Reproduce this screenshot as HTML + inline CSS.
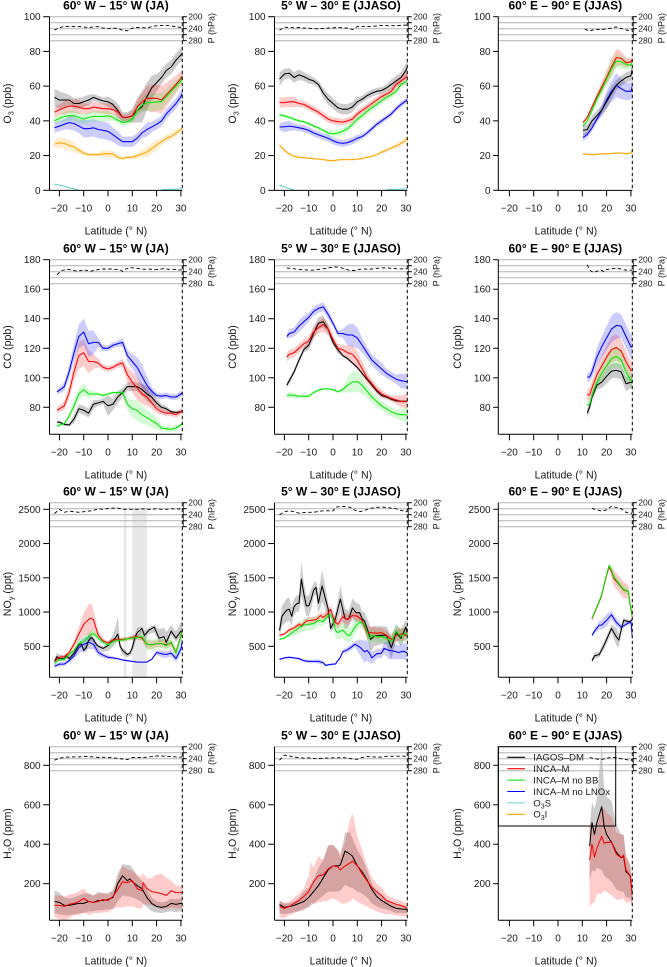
<!DOCTYPE html>
<html lang="en">
<head>
<meta charset="utf-8">
<title>Latitudinal profiles of O3, CO, NOy and H2O</title>
<style>
html,body{margin:0;padding:0;background:#fff;}
svg{display:block;font-family:"Liberation Sans",Arial,sans-serif;}
</style>
</head>
<body>
<svg id="chart" xmlns="http://www.w3.org/2000/svg" width="667" height="967" viewBox="0 0 667 967"></svg>
<script>
// ---------- shared category data ----------
const titles = ['60° W – 15° W (JA)', '5° W – 30° E (JJASO)', '60° E – 90° E (JJAS)'];
const xTicks = [-20, -10, 0, 10, 20, 30];
const pressureTicks = [200, 220, 240, 260, 280];
const pressureLabels = [200, 240, 280];
const o3Ticks = [0, 20, 40, 60, 80, 100];
const coTicks = [80, 100, 120, 140, 160, 180];
const noyTicks = [500, 1000, 1500, 2000, 2500];
const h2oTicks = [200, 400, 600, 800];
const legendNames = ['IAGOS–DM', 'INCA–M', 'INCA–M no BB', 'INCA–M no LNOx', 'O3S', 'O3I'];

// ---------- O3, 60W-15W ----------
const latA = [-22,-20,-18,-16,-14,-12,-10,-8,-6,-4,-2,0,2,4,6,8,10,12,14,16,18,20,22,24,26,28,30,30.6];
const o3a_black = [53.5,52,52,52,50,50,51,52,53.5,52.5,51.5,51,49.5,46,42,42,43,46,48,54,59,62,65,69,71,75,78,79];
const o3a_blackB = [5,5,4,3,3,3,3,3,2,2,2,3,3,4,3,3,4,7,9,8,7,5,4,4,4,4,4,4];
const o3a_red = [45,46.5,47.5,48.5,48.5,48,47,47,48,47.5,47,47,46.5,45,42,42,43,48,51,53,53,53,52,55,58,61,64.5,66];
const o3a_redB = [3,3,4,4,4,4,3,3,3,3,3,3,3,3,2,2,3,4,5,7,8,8,8,7,6,5,4,4];
const o3a_green = [40,41.5,42.5,43,43,42,41,42,42.5,42.5,42.5,43,42,40.5,39,39.5,41,46,49,50.5,50.5,51,51,54,57,60,63,65];
const o3a_greenB = [2,2,3,3,3,3,3,3,3,3,3,3,2,2,2,2,2,3,4,5,5,5,5,4,4,3,3,3];
const o3a_blue = [36,37,38,39,38.5,37,35.5,35.5,36,35,34.5,34,32,30,28,28,28,30,33,35,36.5,38,40,44,47,50,54,56];
const o3a_blueB = [3,3,3,4,4,4,5,5,5,5,5,5,4,4,3,3,3,3,3,4,3,3,3,3,3,3,3,3];
const o3a_orange = [26.5,27.5,27,26,25,23,21.5,20.5,20.5,20.5,21,21,21,19,18.3,19,19,20,21,22,24,26,28,30,31,33,35,36];
const o3a_orangeB = [2,3,3,3,3,2,1.5,1,1,1,2,2,2,1.5,1,1,1,1.5,2,3,3,3,2,2,2,2,1.5,1.5];
const o3a_cyanLat1 = [-22,-20,-18,-16,-14,-12];
const o3a_cyan1 = [3.5,3,2.3,1.5,0.8,0.1];
const cyanLat2 = [22,24,26,28,30,30.6];
const cyan2 = [0.3,0.5,0.6,0.7,0.8,0.8];
const o3a_press = [245,236,233,233,233,233,234,237,234,233,238,239,238,239,245,247,238,236,236,238,233,230,229,229,231,233,236,237];

// ---------- O3, 5W-30E ----------
const o3b_black = [64,67,67.5,65,66.5,65.5,64,63,61,56,52.5,50,47.5,46.7,46.7,48,51,52.5,54.5,56,57,57.5,59,61,63,65,69,71];
const o3b_blackB = [4,3,3,3,3,2.5,2.5,2,2,3,3,3,3,3,3,3,2.5,2,2,2,2,2,2,3,3,3,4,5];
const o3b_red = [50.5,50.5,51,51,50,49.5,48,46.5,45,43,41,40,39.5,39.3,40,41,44,46,48,50,52,54,55.5,57,61,63,65,66];
const o3b_redB = [3,3,3,3,2,2,2,2,2,2,2,2,2,2,2,2,2,2,2,2,2,2,2,2,3,3,3,3];
const o3b_green = [43.5,42.8,42,41,40,39.5,38.5,37,36,34.5,33,32.5,33,34,35.5,38,41,43,45.5,47.5,49.5,51.5,53.5,55,57,61,62.5,63.5];
const o3b_greenB = [1,1,1,1,1,1,1,1,1,1,2,2,2,2,2,2,2,2,2,2,2,2,2,2,2,2,2,2];
const o3b_blue = [36.5,36.5,37,36.5,36,35.5,34.5,33,32,31,30,28.5,27.5,27,27.5,28.5,30,31,33,35.5,38,40,42,44,47,49.5,51.5,52.5];
const o3b_blueB = [2,3,3,2,2,2,2,2,2,2,2,2,2,2,2,2,2,1.5,1.5,1.5,1.5,1.5,1.5,1.5,1.5,1.5,1.5,1.5];
const o3b_orange = [26,23,21,19.5,19,18.8,18.5,18.2,18,17.7,17.3,17,17.5,17.7,17.7,17.7,18,18.2,19,19.5,20.5,22,23,24.5,25.5,27,29,30];
const o3b_orangeB = [1,1,1,.5,.5,.5,.5,.5,.5,.5,.5,.5,.5,.5,.5,.5,.5,.5,.5,.5,.5,1,1,1,1.5,1.5,2,2.5];
const o3b_cyanLat1 = [-22,-20,-18,-16];
const o3b_cyan1 = [3,2,1,0.2];
const o3b_press = [245,235,236,237,236,238,238,240,240,239,238,237,236,237,238,243,233,232,233,232,231,229,230,230,230,229,228,229];

// ---------- O3, 60E-90E ----------
const o3cLat = [10.3,12,14,16,18,20,22,24,26,28,30,30.6];
const o3c_black = [34.5,35,40,43,46,51,56,60.5,63,65,66,70];
const o3c_blackB = [3,3,3,3,3,4,4,3,3,3,3,3];
const o3c_red = [39,42,48,54,59.5,65,71,76.5,76,73.5,74,75.5];
const o3c_redB = [1,1,1,2,3,4,5,5,4,3,2,2];
const o3c_green = [37,40,46,52.5,58,64,70,74.5,74,72.5,72,74];
const o3c_greenB = [1,1,2,3,3,4,5,4,4,3,2,2];
const o3c_blue = [30.5,32,36,41,46,52,57,60.5,58.5,57,57,60];
const o3c_blueB = [2,2,2,2,3,5,6,7,6,5,5,5];
const o3c_orange = [21,20.8,20.5,20.8,21,21,21.2,21.5,21.5,21,21.5,23];
const o3c_orangeB = [.5,.5,.5,.5,.5,.5,.5,.5,.5,.5,.5,.5];
const o3cPressLat = [11,12,13,14,16,18,20,22,24,26,28,29,30.6];
const o3c_press = [241,245,247,245,242,243,240,238,234,239,244,246,241];

// ---------- CO, 60W-15W ----------
const coaLat = [-21,-20,-18,-16,-14,-12,-10,-8,-6,-4,-2,0,2,4,6,8,10,12,14,16,18,20,22,24,26,28,30,30.6];
const coa_blue = [90.5,91.5,94,104,117,128,131,123,124,124,120,120,122,123,124,115,111,107,101,95,91,88,87.5,88,87,87,89,90];
const coa_blueB = [2,2,3,4,6,8,9,9,8,3,2,2,2,2,3,4,5,7,8,6,3,2,2,2,2,2,2,2];
const coa_red = [78,79,81,90,104,115,117,111,111,110,107,106,107,109,110,102,97,93,89,87,83,79,77,76,76,75,77,78];
const coa_redB = [2,2,3,4,6,9,9,8,5,3,2,2,2,2,3,5,7,8,7,6,4,3,2,2,2,2,2,2];
const coa_green = [67,68,69,74,81,89,92,89,89,89,88,89,90,90,90,82,79,78,75,73,71,69,66,65.5,65,66,68,69.5];
const coa_greenB = [1,1,1,2,3,4,4,3,2,1,1,1,1,1,2,4,6,7,6,5,5,4,2,2,2,2,1,1];
const coa_black = [70,70,68.5,68,72,79,78,76,82,83,84,81,82,87,90,94,94,94,92,89,87,83,80,79,77,76.5,77,78];
const coa_blackB = [1,1,1,1,3,3,3,3,3,2,2,7,4,4,3,3,3,3,4,5,5,3,2,2,1,1,1,1];
const coaPressLat = [-21,-19,-17,-15,-13,-11,-10,-9,-7,-5,-3,-1,1,3,5,6,7,9,11,13,15,17,19,21,23,25,27,29,30.6];
const coa_press = [250,236,232,234,238,236,232,236,238,235,231,231,231,232,234,239,232,226,228,230,232,231,233,232,230,232,232,234,234];

// ---------- CO, 5W-30E ----------
const cobLat = [-19,-18,-16,-14,-12,-10,-8,-6,-4,-2,0,2,4,6,8,10,12,14,16,18,20,22,24,26,28,30,30.6];
const cob_blue = [128,130,131,135,138,141,145,147,148,143,137,130,130,129,129,127,122,117,112,109,106,103,101,99,98,97.5,97];
const cob_blueB = [2,3,3,4,4,3,3,3,3,3,2,2,3,7,8,7,5,4,4,4,4,3,3,3,5,5,5];
const cob_red = [114,116,117,120,123,125,131,134,136,133,126,120,119,117,116,112,106,100,96,92,89,87.5,86,85,84,84,84];
const cob_redB = [3,3,3,3,3,3,4,4,5,4,3,3,3,5,6,6,5,4,3,3,3,2,2,3,4,5,5];
const cob_green = [88,88.5,88,87.5,87.5,87.5,90,91.5,92.5,92.5,92,90.5,92,95,97,97.5,95,91,87,84,81,79,77,75.5,75,75,74.5];
const cob_greenB = [1,2,2,1,1,1,1,1,1,1,1,1,2,5,7,7,6,4,4,4,3,3,3,3,4,5,5];
const cob_black = [95,98,104,112,119,122,130,137,138,133,124,119,115,113,110,107,103,99,95,91,88,87,85.5,84.5,84,84,84];
const cob_blackB = [2,2,2,2,2,3,4,4,4,3,2,2,1,1,1,1,1,1,1,1,1,1,1,1,1,1,1];
const cobPressLat = [-19,-17,-15,-13,-11,-9,-7,-5,-3,-1,1,3,5,7,9,11,13,15,17,19,21,23,25,27,29,30.6];
const cob_press = [228,229,232,233,234,235,234,231,229,226,224,226,231,236,236,232,231,232,230,228,227,228,230,230,231,230];

// ---------- CO, 60E-90E ----------
const cocLat = [12,13,14,16,18,20,22,24,26,28,30,30.6];
const coc_blue = [100.5,100.5,104,114,121,127,133,135.5,135,128,121,121];
const coc_blueB = [3,3,4,6,7,8,9,9,8,8,8,8];
const coc_red = [88.5,88.5,93,102,108,114,119,120.5,118,111,105,105];
const coc_redB = [4,4,5,6,7,8,9,9,8,7,6,6];
const coc_green = [81.5,82,88,97,103,108,113,114.5,112,104,98,99];
const coc_greenB = [3,3,3,4,5,6,7,7,6,6,5,5];
const coc_black = [76,80,87,95,97,101,104.5,105,104,96,97,96.5];
const coc_blackB = [3,3,3,3,4,5,5,5,5,5,4,4];
const cocPressLat = [12,13,14,15,16,18,19,20,22,24,26,28,30,30.6];
const coc_press = [217,234,240,242,238,236,240,233,230,229,231,235,235,234];

// ---------- NOy, 60W-15W ----------
const noaBlackLat = [-22,-21,-20,-18,-17,-16,-14,-12,-11,-10,-9,-8,-7,-6,-5,-4,-2,0,2,3,4,5,6,8,9,10,11,12,14,15,17,19,21,23,24,26,28,30,30.6];
const noa_black = [280,350,320,320,360,320,400,520,530,440,480,580,630,600,540,500,470,510,590,620,680,500,440,380,400,480,620,700,760,660,740,780,620,640,560,720,620,720,720];
const noa_blackUp = [40,60,60,40,40,40,40,40,40,60,80,100,60,40,30,30,30,40,80,150,250,60,40,30,30,40,60,70,30,60,40,30,130,130,150,90,100,130,170];
const noa_blackDn = [40,40,40,40,40,40,40,40,40,40,60,60,50,50,40,40,50,80,100,80,60,60,60,40,40,60,80,60,60,60,60,80,60,60,60,60,60,60,60];
const noaLat = [-22,-20,-18,-16,-14,-12,-10,-8,-7,-6,-4,-2,0,2,4,6,8,10,12,14,16,18,20,22,24,26,28,30,30.6];
const noa_red = [280,340,350,410,530,680,820,890,910,890,660,580,550,590,600,600,610,630,640,620,530,520,540,540,520,550,410,650,730];
const noa_redB = [30,30,30,30,50,100,170,220,220,150,60,30,30,30,30,30,30,40,40,40,60,60,50,50,50,50,50,40,40];
const noa_green = [250,310,310,380,440,540,570,640,670,690,620,560,520,570,590,590,610,620,630,640,530,520,540,540,510,560,400,640,730];
const noa_greenB = [30,30,30,30,40,60,70,70,60,60,50,40,40,40,30,30,30,30,30,60,90,80,70,70,70,70,70,60,60];
const noa_blue = [210,240,240,290,360,480,530,560,530,410,370,340,330,320,300,290,280,270,270,270,310,410,390,380,400,320,460,590];
const noa_blueB = [30,30,30,30,50,80,100,100,70,50,40,30,20,15,10,10,10,10,10,10,10,30,50,50,50,50,60,60];
const noa_press = [236,222,232,228,230,232,230,228,226,220,222,219,218,218,222,222,222,222,220,222,222,220,222,222,220,222,220,219];
const noaGapStart = [6.5, 10];
const noaGapEnd = [7.6, 16];

// ---------- NOy, 5W-30E ----------
const nobBlackLat = [-22,-21,-19,-18,-17,-16,-15,-14,-13,-12,-11,-10,-9,-8,-7,-6,-4.5,-3,-2,-1,1,3,5,6.5,8,9.5,11,12,13,15.5,17,20,22,24,26,28,30,30.6];
const nob_black = [730,940,1030,1040,940,1080,1120,1130,1480,1270,1090,1090,1180,1320,1360,1130,1380,1180,1050,760,900,1190,900,900,1060,990,990,900,870,600,650,660,660,480,700,620,780,680];
const nob_blackB = [100,150,170,170,130,120,120,120,250,170,150,150,150,100,100,150,230,160,100,60,90,190,150,120,140,150,120,100,130,170,150,130,130,170,120,120,120,120];
const nobRedLat = [-22,-20,-18,-16,-14,-13,-11,-9,-7,-5,-4,-2,-1,0,1,2,4,6,8,10,12,14,16,18,20,22,24,26,28,30,30.6];
const nob_red = [660,680,740,770,820,800,870,880,890,950,920,980,1040,930,850,820,930,890,950,940,880,700,700,690,700,660,600,660,680,660,720];
const nob_redB = [20,20,30,30,40,40,50,50,50,50,60,70,70,60,60,70,80,80,60,60,60,100,90,80,70,70,60,90,90,90,90];
const nobGreenLat = [-22,-20,-18,-16,-14,-12,-10,-8,-6,-4,-2,-1,0,1,2,4,6,7,9,11,13,15,16,18,20,22,24,26,28,30,30.6];
const nob_green = [600,620,670,720,770,810,820,830,880,860,950,960,880,730,700,740,660,660,780,850,820,620,660,640,640,620,570,720,640,700,650];
const nob_greenB = [20,20,40,60,90,90,90,90,80,70,50,50,60,90,100,120,110,110,100,80,70,100,90,80,80,80,80,100,100,100,100];
const nobBlueLat = [-22,-20,-18,-16,-14,-12,-10,-8,-6,-4,-3,-2,0,1,3,4,6,8,9,11,13,14,15,16,18,20,21,23,25,27,29,30.6];
const nob_blue = [310,330,340,330,320,290,280,280,280,260,220,230,240,240,340,420,450,500,530,490,420,440,400,330,390,400,470,440,430,410,430,400];
const nob_blueB = [15,15,15,15,20,20,25,25,30,30,20,15,15,15,20,30,40,40,40,110,160,150,130,90,70,70,80,130,120,100,120,130];
const nobPressLat = [-22,-20,-18,-16,-14,-12,-10,-8,-6,-4,-2,0,1,3,5,7,9,11,13,15,17,20,22,24,26,28,30,30.6];
const nob_press = [240,230,227,230,235,233,232,232,229,227,227,227,215,213,213,215,225,230,226,219,217,214,216,218,220,226,229,228];

// ---------- NOy, 60E-90E ----------
const nocLat = [14,16,18,19,21,22,23,25,27,29,29.5,30.6];
const noc_red = [900,1070,1240,1400,1660,1590,1490,1410,1320,1300,1140,920];
const noc_redB = [20,20,30,30,30,80,120,120,120,100,50,20];
const noc_green = [910,1080,1250,1410,1680,1610,1510,1420,1330,1300,1150,930];
const noc_greenB = [20,20,30,30,30,60,60,60,60,50,30,20];
const nocBlueLat = [14,15,17,18,20,22,24,26,28,30,30.6];
const noc_blue = [660,720,810,810,880,960,850,780,820,860,620];
const noc_blueB = [20,40,60,70,90,60,60,40,30,20,20];
const nocBlackLat = [14,15,17,19,20,22,24,25,27,29,30,30.6];
const noc_black = [290,360,380,520,600,760,640,590,880,860,870,900];
const noc_blackB = [30,50,40,60,60,60,130,100,40,30,20,20];
const nocPressLat = [14,16,18,20,22,24,26,28,30,30.6];
const noc_press = [219,224,228,224,212,216,220,232,237,232];

// ---------- H2O, 60W-15W ----------
const h2aBlackLat = [-22,-20,-18,-16,-14,-12,-10,-8,-6,-4,-2,0,2,3,4,6,8,9,10,12,14,16,18,20,22,24,26,28,30,30.6];
const h2a_black = [110,105,90,90,95,100,100,110,105,115,115,120,130,160,200,240,215,225,210,190,175,130,100,85,80,85,100,95,100,100];
const h2a_blackUp = [55,50,40,35,35,40,50,40,35,45,35,35,35,40,50,60,80,70,70,50,40,40,30,25,25,25,25,25,25,25];
const h2a_blackDn = [60,60,50,50,50,50,50,50,45,50,50,50,60,70,90,100,80,90,80,70,70,50,40,30,30,30,40,40,40,40];
const h2aRedLat = [-22,-20,-18,-16,-14,-12,-10,-8,-6,-4,-2,0,2,4,6,8,10,12,14,14.5,16,18,20,22,24,26,28,30,30.6];
const h2a_red = [90,90,85,95,100,110,125,110,105,110,120,115,135,170,210,205,215,175,165,205,175,160,155,150,140,165,155,155,155];
const h2a_redUp = [50,50,50,50,50,50,50,40,35,40,35,30,30,60,80,70,50,70,70,50,50,70,90,100,90,50,35,35,40];
const h2a_redDn = [60,70,70,70,60,70,70,70,55,60,65,60,60,90,130,120,130,100,90,110,80,70,75,80,70,85,80,80,80];
const h2a_press = [245,238,236,234,234,234,233,233,234,236,235,236,237,239,241,243,236,236,236,235,233,231,231,232,233,234,235,233];

// ---------- H2O, 5W-30E ----------
const h2bBlackLat = [-22,-20,-18,-16,-14,-12,-10,-8,-6,-4,-2,0,2,3,5,7,8,10,12,14,16,18,20,22,24,26,28,30,30.6];
const h2b_black = [95,80,85,90,100,110,130,160,190,230,270,290,290,295,365,350,340,290,260,220,170,135,115,100,85,75,72,70,70];
const h2b_blackUp = [20,20,15,20,30,50,50,60,90,90,125,110,80,35,95,110,90,80,70,50,30,25,20,20,15,15,15,15,15];
const h2b_blackDn = [45,35,35,35,40,40,50,60,70,90,110,130,130,130,170,170,160,130,110,90,70,50,40,30,25,25,20,20,20];
const h2bRedLat = [-22,-20,-18,-16,-14,-12,-10,-9,-8,-6,-4,-2,0,2,3,5,7,8,10,12,14,16,18,20,22,24,26,28,30,30.6];
const h2b_red = [85,75,85,100,115,135,160,185,210,240,245,275,290,285,270,290,305,315,290,250,215,180,160,140,115,105,95,90,80,75];
const h2b_redUp = [30,25,25,30,35,40,80,125,70,100,75,115,105,85,85,120,215,245,150,120,75,50,40,40,30,25,25,25,20,20];
const h2b_redDn = [55,50,45,50,55,65,75,80,115,135,135,160,165,170,170,190,195,190,180,155,130,110,100,90,70,60,55,55,45,40];
const h2b_press = [245,228,231,235,236,238,237,239,240,238,238,237,237,236,238,241,242,236,233,234,234,235,232,232,232,231,232,230];

// ---------- H2O, 60E-90E ----------
const h2cLat = [13,14,15,16,18,19,20,22,24,26,27,28,29.7,30.6];
const h2c_black = [390,510,450,510,590,490,450,410,360,330,340,260,240,140];
const h2c_blackUp = [100,100,130,120,320,180,190,210,140,120,110,80,60,60];
const h2c_blackDn = [180,240,190,230,320,250,220,200,190,170,180,130,110,50];
const h2c_red = [320,400,335,380,440,405,410,410,350,330,345,270,240,140];
const h2c_redUp = [180,100,150,130,140,180,150,130,110,120,100,70,50,50];
const h2c_redDn = [240,300,230,230,290,240,250,270,230,210,220,170,130,60];
const h2cPressLat = [13,14,16,18,20,22,24,26,28,30,30.6];
const h2c_press = [236,238,241,243,238,236,236,240,243,246,240];

// ---------- layout and scales ----------
const NS = 'http://www.w3.org/2000/svg';
const chart = document.getElementById('chart');
const colors = {black:'#000000', red:'#ff0000', green:'#00e800', blue:'#0000ff', cyan:'#60d0d0', orange:'#ffa500'};
const fills = {black:'rgba(0,0,0,.2)', red:'rgba(255,0,0,.2)', green:'rgba(0,232,0,.17)', blue:'rgba(0,0,255,.2)', cyan:'rgba(96,208,208,.2)', orange:'rgba(255,165,0,.2)'};
const colLeft = [49.5, 274.5, 498.3];
const colRight = [182.3, 407.3, 632.3];
const colOffset = [0, 225, 450];
const rowTop = [16.7, 259.7, 502.7, 746.7];
const rowBottom = [190.4, 434.3, 677.3, 920.3];
const rowTitleShift = [0, 0, 4, 0];

function makeY(v1, y1, v2, y2) {
  return function (v) { return y1 + (v - v1) * (y2 - y1) / (v2 - v1); };
}
const yScales = [makeY(0, 190.3, 100, 16.7), makeY(80, 407.3, 180, 259.7), makeY(500, 646.3, 2500, 509.3), makeY(200, 883.7, 800, 765.3)];
const yTicks = [o3Ticks, coTicks, noyTicks, h2oTicks];
const yLabels = [['O','3',' (ppb)'], ['CO','',' (ppb)'], ['NO','y',' (ppt)'], ['H','2','O (ppm)']];

function xScale(col, lat) { return colOffset[col] + 108.0 + lat * 2.43; }
function pScale(row, p) { return rowTop[row] + (p - 200) * 0.3; }

function mk(parent, tag, attrs) {
  const n = document.createElementNS(NS, tag);
  for (const k in attrs) n.setAttribute(k, attrs[k]);
  parent.appendChild(n);
  return n;
}
function s(color, lat, val, up, dn) { return {color, lat, val, up, dn: dn || up}; }

const panels = [
 {col:0,row:0,slug:'o3-west',pLat:latA,p:o3a_press,series:[s('orange',latA,o3a_orange,o3a_orangeB),s('cyan',o3a_cyanLat1,o3a_cyan1),s('cyan',cyanLat2,cyan2),s('blue',latA,o3a_blue,o3a_blueB),s('black',latA,o3a_black,o3a_blackB),s('red',latA,o3a_red,o3a_redB),s('green',latA,o3a_green,o3a_greenB)]},
 {col:1,row:0,slug:'o3-central',pLat:latA,p:o3b_press,series:[s('orange',latA,o3b_orange,o3b_orangeB),s('cyan',o3b_cyanLat1,o3b_cyan1),s('cyan',cyanLat2,cyan2),s('blue',latA,o3b_blue,o3b_blueB),s('black',latA,o3b_black,o3b_blackB),s('red',latA,o3b_red,o3b_redB),s('green',latA,o3b_green,o3b_greenB)]},
 {col:2,row:0,slug:'o3-east',pLat:o3cPressLat,p:o3c_press,series:[s('orange',o3cLat,o3c_orange,o3c_orangeB),s('blue',o3cLat,o3c_blue,o3c_blueB),s('black',o3cLat,o3c_black,o3c_blackB),s('red',o3cLat,o3c_red,o3c_redB),s('green',o3cLat,o3c_green,o3c_greenB)]},
 {col:0,row:1,slug:'co-west',pLat:coaPressLat,p:coa_press,series:[s('black',coaLat,coa_black,coa_blackB),s('red',coaLat,coa_red,coa_redB),s('green',coaLat,coa_green,coa_greenB),s('blue',coaLat,coa_blue,coa_blueB)]},
 {col:1,row:1,slug:'co-central',pLat:cobPressLat,p:cob_press,series:[s('black',cobLat,cob_black,cob_blackB),s('red',cobLat,cob_red,cob_redB),s('green',cobLat,cob_green,cob_greenB),s('blue',cobLat,cob_blue,cob_blueB)]},
 {col:2,row:1,slug:'co-east',pLat:cocPressLat,p:coc_press,series:[s('black',cocLat,coc_black,coc_blackB),s('red',cocLat,coc_red,coc_redB),s('green',cocLat,coc_green,coc_greenB),s('blue',cocLat,coc_blue,coc_blueB)]},
 {col:0,row:2,slug:'noy-west',pLat:latA,p:noa_press,gapStart:noaGapStart,gapEnd:noaGapEnd,series:[s('blue',latA,noa_blue,noa_blueB),s('black',noaBlackLat,noa_black,noa_blackUp,noa_blackDn),s('red',noaLat,noa_red,noa_redB),s('green',noaLat,noa_green,noa_greenB)]},
 {col:1,row:2,slug:'noy-central',pLat:nobPressLat,p:nob_press,series:[s('blue',nobBlueLat,nob_blue,nob_blueB),s('black',nobBlackLat,nob_black,nob_blackB),s('red',nobRedLat,nob_red,nob_redB),s('green',nobGreenLat,nob_green,nob_greenB)]},
 {col:2,row:2,slug:'noy-east',pLat:nocPressLat,p:noc_press,series:[s('blue',nocBlueLat,noc_blue,noc_blueB),s('black',nocBlackLat,noc_black,noc_blackB),s('red',nocLat,noc_red,noc_redB),s('green',nocLat,noc_green,noc_greenB)]},
 {col:0,row:3,slug:'h2o-west',pLat:latA,p:h2a_press,series:[s('black',h2aBlackLat,h2a_black,h2a_blackUp,h2a_blackDn),s('red',h2aRedLat,h2a_red,h2a_redUp,h2a_redDn)]},
 {col:1,row:3,slug:'h2o-central',pLat:latA,p:h2b_press,series:[s('black',h2bBlackLat,h2b_black,h2b_blackUp,h2b_blackDn),s('red',h2bRedLat,h2b_red,h2b_redUp,h2b_redDn)]},
 {col:2,row:3,slug:'h2o-east',pLat:h2cPressLat,p:h2c_press,series:[s('black',h2cLat,h2c_black,h2c_blackUp,h2c_blackDn),s('red',h2cLat,h2c_red,h2c_redUp,h2c_redDn)]}
];

const TICK = '#000';
const TXT = '#1a1a1a';

panels.forEach(function (pn, idx) {
  const c = pn.col, r = pn.row;
  const L = colLeft[c], R = colRight[c], T = rowTop[r], B = rowBottom[r], off = colOffset[c];
  const y = yScales[r];
  const x = function (v) { return xScale(c, v); };

  const g = mk(chart, 'g', {});
  
  

  const clip = mk(g, 'clipPath', {id: 'clip' + idx});
  mk(clip, 'rect', {x: L, y: T, width: R - L, height: B - T});

  const title = mk(g, 'text', {x: (L + R) / 2, y: T - 7, 'text-anchor': 'middle', 'font-size': 12, 'font-weight': 'bold', fill: '#000'});
  title.textContent = titles[c];
  
  

  const plot = mk(g, 'g', {'clip-path': 'url(#clip' + idx + ')'});
  
  

  (pn.gapStart || []).forEach(function (lat, i) {
    const rect = mk(plot, 'rect', {x: x(lat), y: y(2510), width: x(pn.gapEnd[i]) - x(lat), height: B - y(2510), fill: 'rgba(0,0,0,.09)'});
    
    
  });

  pressureTicks.forEach(function (p) {
    const ln = mk(g, 'line', {x1: L, x2: R, y1: pScale(r, p), y2: pScale(r, p), stroke: '#b4b4b4', 'stroke-width': 1});
    
    
  });

  pn.series.forEach(function (sr) {
    if (!sr.up) return;
    const top = sr.lat.map(function (la, i) { return x(la).toFixed(1) + ',' + y(sr.val[i] + sr.up[i]).toFixed(1); });
    const bot = sr.lat.map(function (la, i) { return x(la).toFixed(1) + ',' + y(sr.val[i] - sr.dn[i]).toFixed(1); }).reverse();
    const band = mk(plot, 'polygon', {points: top.concat(bot).join(' '), fill: fills[sr.color], stroke: 'none'});
    
    
  });
  pn.series.forEach(function (sr) {
    const pts = sr.lat.map(function (la, i) { return x(la).toFixed(1) + ',' + y(sr.val[i]).toFixed(1); }).join(' ');
    const line = mk(plot, 'polyline', {points: pts, fill: 'none', stroke: colors[sr.color], 'stroke-width': 1.05, 'stroke-linejoin': 'round'});
    
    
  });

  const pPts = pn.pLat.map(function (la, i) { return x(la).toFixed(1) + ',' + pScale(r, pn.p[i]).toFixed(1); }).join(' ');
  const pLine = mk(g, 'polyline', {points: pPts, fill: 'none', stroke: '#000', 'stroke-width': 0.9, 'stroke-dasharray': '3.5 2.5'});
  
  

  // axes
  const axes = mk(g, 'g', {stroke: TICK, 'stroke-width': 1, fill: 'none'});
  
  
  mk(axes, 'line', {x1: L, x2: L, y1: T, y2: B});
  mk(axes, 'line', {x1: L, x2: R, y1: B, y2: B});
  mk(axes, 'line', {x1: R, x2: R, y1: T, y2: B, 'stroke-dasharray': '3.5 2.5'});

  xTicks.forEach(function (t) {
    mk(axes, 'line', {x1: x(t), x2: x(t), y1: B, y2: B + 6});
    const lb = mk(g, 'text', {x: x(t), y: B + 21.2, 'text-anchor': 'middle', 'font-size': 10, fill: TXT});
    lb.textContent = t < 0 ? '−' + (-t) : String(t);
    
    
  });
  yTicks[r].forEach(function (t) {
    mk(axes, 'line', {x1: colLeft[0] + off - 6.3, x2: L, y1: y(t), y2: y(t)});
    const lb = mk(g, 'text', {x: off + 40.6, y: y(t) + 3.5, 'text-anchor': 'end', 'font-size': 10, fill: TXT});
    lb.textContent = String(t);
    
    
  });
  pressureTicks.forEach(function (p) {
    mk(axes, 'line', {x1: R, x2: R + 4.5, y1: pScale(r, p), y2: pScale(r, p)});
  });
  mk(axes, 'line', {x1: R + 1, x2: R + 1, y1: pScale(r, 200), y2: pScale(r, 280), 'stroke-width': 0.6});
  pressureLabels.forEach(function (p) {
    const lb = mk(g, 'text', {x: off + 188.3, y: pScale(r, p) + 3, 'font-size': 8.5, fill: TXT});
    lb.textContent = String(p);
    
    
  });

  const pt = mk(g, 'text', {transform: 'translate(' + (off + 214.3) + ',' + (T + 11.5) + ') rotate(-90)', 'text-anchor': 'middle', 'font-size': 9, fill: TXT});
  pt.textContent = 'P (hPa)';
  
  

  const xt = mk(g, 'text', {x: (colLeft[0] + colRight[0]) / 2 + off, y: B + 44, 'text-anchor': 'middle', 'font-size': 10.6, fill: TXT});
  xt.textContent = 'Latitude (° N)';
  
  

  const yl = yLabels[r];
  const yt = mk(g, 'text', {transform: 'translate(' + (off + 11) + ',' + ((T + B) / 2 + rowTitleShift[r]) + ') rotate(-90)', 'text-anchor': 'middle', 'font-size': 10.6, fill: TXT});
  
  
  const t1 = mk(yt, 'tspan', {});
  t1.textContent = yl[0];
  if (yl[1]) {
    const t2 = mk(yt, 'tspan', {dy: 2.5, 'font-size': 7.5});
    t2.textContent = yl[1];
    const t3 = mk(yt, 'tspan', {dy: -2.5});
    t3.textContent = yl[2];
  } else {
    const t3 = mk(yt, 'tspan', {});
    t3.textContent = yl[2];
  }
});

// legend
const legendColors = ['black', 'red', 'green', 'blue', 'cyan', 'orange'];
const legendG = mk(chart, 'g', {});


const legendBox = mk(legendG, 'rect', {x: 498.3, y: 746.7, width: 117.4, height: 79.3, fill: 'none', stroke: '#000', 'stroke-width': 1});


legendNames.forEach(function (name, i) {
  const yy = 757.3 + i * 11.4;
  const ln = mk(legendG, 'line', {x1: 507.3, x2: 525, y1: yy, y2: yy, stroke: colors[legendColors[i]], 'stroke-width': 1.05});
  
  
  const tx = mk(legendG, 'text', {x: 533.3, y: yy + 3.4, 'font-size': 9.6, fill: TXT});
  
  
  if (name.indexOf('O3') === 0) {
    const a = mk(tx, 'tspan', {});
    a.textContent = 'O';
    const b = mk(tx, 'tspan', {dy: 2.2, 'font-size': 7});
    b.textContent = '3';
    const d = mk(tx, 'tspan', {dy: -2.2});
    d.textContent = name.slice(2);
  } else {
    tx.textContent = name;
  }
});
</script>
</body>
</html>
